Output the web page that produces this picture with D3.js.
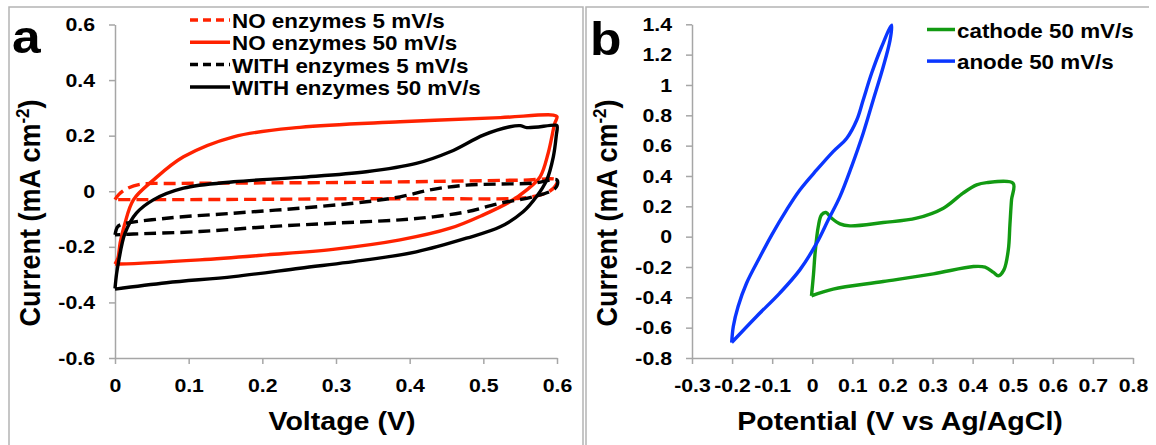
<!DOCTYPE html>
<html lang="en">
  <head>
    <meta charset="UTF-8" />
    <title>Cyclic voltammetry (a, b)</title>
    <script src="https://cdnjs.cloudflare.com/ajax/libs/d3/7.9.0/d3.min.js"></script>
    <style>
      html,
      body {
        margin: 0;
        background: #ffffff;
      }
      svg {
        display: block;
        font-family: "Liberation Sans", Arial, sans-serif;
        font-weight: bold;
      }
      .axis path,
      .axis line {
        stroke: #a6a6a6;
        stroke-width: 1.5px;
      }
      .axis text {
        font-size: 19px;
        font-weight: bold;
        fill: #000;
      }
      path.curve {
        fill: none;
        stroke-width: 3.4px;
        stroke-linejoin: round;
        stroke-linecap: butt;
      }
    </style>
  </head>
  <body>
    <svg id="chart" width="1156" height="445"></svg>

    <script>
      /* --------------------- Data: panel a --------------------- */
      const aXTicks = [0, 0.1, 0.2, 0.3, 0.4, 0.5, 0.6];
      const aYTicks = [-0.6, -0.4, -0.2, 0, 0.2, 0.4, 0.6];

      // [voltage V, current mA cm-2], one closed CV loop per series
      const noEnz5 = [
        [0, -0.03], [0.005, -0.012], [0.015, 0.008], [0.034, 0.025], [0.08, 0.028],
        [0.2, 0.03], [0.333, 0.032], [0.45, 0.036], [0.555, 0.04], [0.6, 0.04],
        [0.598, 0.02], [0.59, 0.0], [0.575, -0.015], [0.55, -0.025], [0.45, -0.027],
        [0.333, -0.027], [0.2, -0.029], [0.1, -0.03], [0.03, -0.03], [0, -0.03],
      ];
      const noEnz50 = [
        [0, -0.262], [0.004, -0.24], [0.007, -0.186], [0.013, -0.12], [0.025, -0.031],
        [0.052, 0.04], [0.093, 0.124], [0.161, 0.196], [0.251, 0.23], [0.387, 0.25],
        [0.523, 0.265], [0.595, 0.274], [0.6, 0.268], [0.597, 0.245], [0.588, 0.137],
        [0.577, 0.052], [0.559, 0.005], [0.536, -0.038], [0.5, -0.085], [0.455, -0.133],
        [0.387, -0.175], [0.296, -0.209], [0.206, -0.229], [0.115, -0.247], [0.007, -0.262],
        [0, -0.262],
      ];
      const withEnz5 = [
        [0, -0.157], [0.003, -0.13], [0.007, -0.121], [0.07, -0.097], [0.161, -0.079],
        [0.251, -0.061], [0.341, -0.038], [0.387, -0.02], [0.432, 0.007], [0.477, 0.022],
        [0.523, 0.026], [0.568, 0.029], [0.6, 0.04], [0.6, 0.02], [0.595, 0.005],
        [0.568, -0.02], [0.523, -0.043], [0.477, -0.074], [0.432, -0.092], [0.387, -0.103],
        [0.296, -0.115], [0.206, -0.128], [0.115, -0.145], [0.025, -0.154], [0, -0.157],
      ];
      const withEnz50 = [
        [0, -0.35], [0.002, -0.3], [0.0045, -0.259], [0.0136, -0.151], [0.029, -0.079],
        [0.052, -0.031], [0.093, 0.011], [0.161, 0.034], [0.251, 0.05], [0.341, 0.07],
        [0.409, 0.1], [0.455, 0.142], [0.5, 0.202], [0.536, 0.232], [0.55, 0.236],
        [0.559, 0.229], [0.597, 0.238], [0.6, 0.236], [0.599, 0.2], [0.595, 0.124],
        [0.586, 0.04], [0.572, -0.02], [0.554, -0.074], [0.523, -0.128], [0.477, -0.169],
        [0.409, -0.218], [0.341, -0.247], [0.251, -0.277], [0.161, -0.307], [0.07, -0.329],
        [0, -0.352],
      ];
      const aNames = [
        "NO enzymes 5 mV/s",
        "NO enzymes 50 mV/s",
        "WITH enzymes 5 mV/s",
        "WITH enzymes 50 mV/s",
      ];

      /* --------------------- Data: panel b --------------------- */
      const bXTicks = [-0.3, -0.2, -0.1, 0, 0.1, 0.2, 0.3, 0.4, 0.5, 0.6, 0.7, 0.8];
      const bYTicks = [-0.8, -0.6, -0.4, -0.2, 0, 0.2, 0.4, 0.6, 0.8, 1, 1.2, 1.4];

      // [potential V vs Ag/AgCl, current mA cm-2]
      const cathode50 = [
        [-0.002, -0.39], [0.003, -0.25], [0.007, -0.109], [0.015, 0.067], [0.023, 0.144],
        [0.034, 0.159], [0.048, 0.122], [0.069, 0.084], [0.094, 0.071], [0.177, 0.093],
        [0.26, 0.122], [0.327, 0.188], [0.376, 0.287], [0.41, 0.341], [0.435, 0.356],
        [0.501, 0.352], [0.497, 0.242], [0.493, 0.08], [0.489, -0.087], [0.478, -0.219],
        [0.464, -0.258], [0.452, -0.236], [0.431, -0.201], [0.402, -0.197], [0.302, -0.245],
        [0.177, -0.296], [0.052, -0.346], [-0.002, -0.39],
      ];
      const anode50 = [
        [-0.201, -0.698], [-0.197, -0.592], [-0.185, -0.46], [-0.164, -0.307], [-0.13, -0.131],
        [-0.101, 0.012], [-0.064, 0.177], [-0.031, 0.308], [0.011, 0.44], [0.052, 0.561],
        [0.086, 0.649], [0.111, 0.769], [0.127, 0.901], [0.148, 1.077], [0.173, 1.252],
        [0.198, 1.395], [0.194, 1.296], [0.177, 1.12], [0.152, 0.901], [0.127, 0.682],
        [0.098, 0.462], [0.069, 0.264], [0.04, 0.111], [0.011, -0.043], [-0.031, -0.219],
        [-0.081, -0.372], [-0.139, -0.526], [-0.201, -0.698],
      ];
      const bNames = ["cathode 50 mV/s", "anode 50 mV/s"];

      /* --------------------- Helpers --------------------- */
      const svg = d3.select("#chart");
      const SX = 1.12; // the source figure is stretched sideways a little
      const fmt = (d) => String(+d.toFixed(1));

      // text placed at (x, y), widened by SX
      function label(x, y, str, size, anchor = "start") {
        return svg
          .append("text")
          .attr("transform", `translate(${x},${y}) scale(${SX},1)`)
          .attr("text-anchor", anchor)
          .attr("font-size", size)
          .text(str);
      }

      function drawAxes(x, y, xTicks, yTicks) {
        const [x0] = x.range();
        const [y0] = y.range();
        const gx = svg
          .append("g")
          .attr("class", "axis")
          .attr("transform", `translate(0,${y0})`)
          .call(
            d3.axisBottom(x).tickValues(xTicks).tickFormat(fmt)
              .tickSizeInner(6).tickSizeOuter(0).tickPadding(15)
          );
        const gy = svg
          .append("g")
          .attr("class", "axis")
          .attr("transform", `translate(${x0},0)`)
          .call(
            d3.axisLeft(y).tickValues(yTicks).tickFormat(fmt)
              .tickSizeInner(6).tickSizeOuter(0)
          );
        gx.selectAll("text")
          .attr("font-family", null)
          .attr("font-size", null)
          .attr("transform", `scale(${SX},1)`);
        gy.selectAll("text")
          .attr("font-family", null)
          .attr("font-size", null)
          .attr("x", -20 / SX)
          .attr("transform", `scale(${SX},1)`);
      }

      function yTitle(xPos, yPos) {
        const t = svg
          .append("text")
          .attr("transform", `translate(${xPos},${yPos}) rotate(-90) scale(1,${SX})`)
          .attr("text-anchor", "middle")
          .attr("font-size", 27);
        t.append("tspan").text("Current (mA cm");
        t.append("tspan").attr("font-size", 17).attr("dy", -10).text("-2");
        t.append("tspan").attr("dy", 10).text(")");
      }

      function drawLegend(items, lineX0, lineX1, y0, step) {
        items.forEach((it, i) => {
          const yy = y0 + i * step;
          svg
            .append("line")
            .attr("x1", lineX0)
            .attr("x2", lineX1)
            .attr("y1", yy)
            .attr("y2", yy)
            .attr("stroke", it.color)
            .attr("stroke-width", 3.5)
            .attr("stroke-dasharray", it.dash);
          label(lineX1 + 2, yy + 8, it.name, 20);
        });
      }

      /* --------------------- Panel frames --------------------- */
      svg
        .append("path")
        .attr("d", "M9,445 V7 H583 V445")
        .attr("fill", "none")
        .attr("stroke", "#b4b4b4")
        .attr("stroke-width", 1.5);
      svg
        .append("path")
        .attr("d", "M586,445 V7 H1149")
        .attr("fill", "none")
        .attr("stroke", "#b4b4b4")
        .attr("stroke-width", 1.5);

      /* --------------------- Panel a --------------------- */
      const xa = d3.scaleLinear().domain([0, 0.6]).range([115, 557]);
      const ya = d3.scaleLinear().domain([-0.6, 0.6]).range([358, 24.5]);
      drawAxes(xa, ya, aXTicks, aYTicks);

      const lineA = d3
        .line()
        .x((d) => xa(d[0]))
        .y((d) => ya(d[1]))
        .curve(d3.curveCatmullRom.alpha(0.5));

      const aSeries = [
        { data: noEnz5, color: "#ff2200", dash: "12,6" },
        { data: noEnz50, color: "#ff2200", dash: null },
        { data: withEnz5, color: "#000000", dash: "12,6" },
        { data: withEnz50, color: "#000000", dash: null },
      ];
      aSeries.forEach((s) => {
        svg
          .append("path")
          .attr("class", "curve")
          .attr("d", lineA(s.data))
          .attr("stroke", s.color)
          .attr("stroke-dasharray", s.dash);
      });

      drawLegend(
        aSeries.map((s, i) => ({ name: aNames[i], color: s.color, dash: s.dash ? "8,5" : null })),
        190, 230, 20, 22.3
      );

      label(12, 53, "a", 46);
      yTitle(40, 213);
      label(342, 430, "Voltage (V)", 25.5, "middle");

      /* --------------------- Panel b --------------------- */
      const xb = d3.scaleLinear().domain([-0.3, 0.8]).range([692, 1133]);
      const yb = d3.scaleLinear().domain([-0.8, 1.4]).range([358, 24.3]);
      drawAxes(xb, yb, bXTicks, bYTicks);

      const lineB = d3
        .line()
        .x((d) => xb(d[0]))
        .y((d) => yb(d[1]))
        .curve(d3.curveCatmullRom.alpha(0.5));

      const bSeries = [
        { data: cathode50, color: "#129a12" },
        { data: anode50, color: "#0a36ff" },
      ];
      bSeries.forEach((s) => {
        svg
          .append("path")
          .attr("class", "curve")
          .attr("d", lineB(s.data))
          .attr("stroke", s.color);
      });

      drawLegend(
        bSeries.map((s, i) => ({ name: bNames[i], color: s.color, dash: null })),
        927, 955, 29.5, 31.6
      );

      label(590, 55, "b", 46);
      yTitle(617, 213);
      label(900, 430, "Potential (V vs Ag/AgCl)", 25.5, "middle");
    </script>
  </body>
</html>
